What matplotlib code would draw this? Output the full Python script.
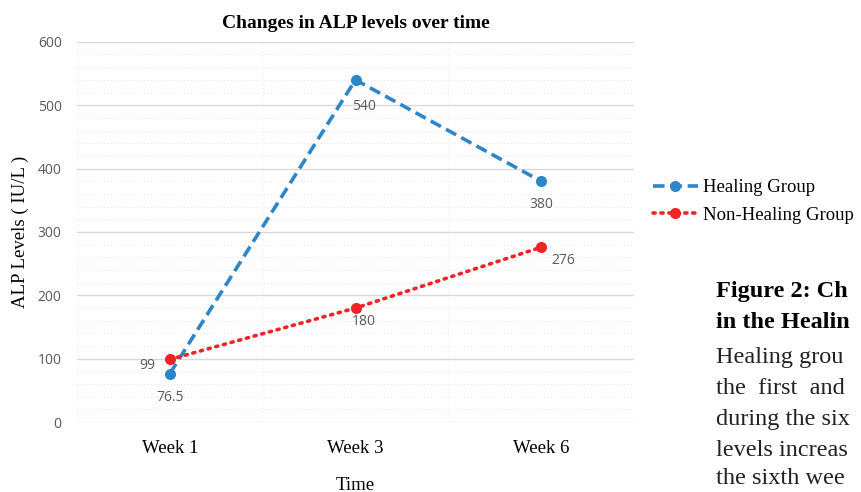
import numpy as np
import matplotlib.pyplot as plt
from matplotlib.ticker import MultipleLocator

# ===== Data =====
weeks = ["Week 1", "Week 3", "Week 6"]
healing = [76.5, 540, 380]
non_healing = [99, 180, 276]

blue = "#2E86C9"
red = "#F02424"
serif = "Liberation Serif"
sans = "Open Sans"

fig = plt.figure(figsize=(8.61, 4.92), dpi=100)
ax = fig.add_axes([0.0894, 0.142, 0.647, 0.773])

x = np.arange(len(weeks))
ax.plot(x, healing, color=blue, ls=(0, (3.2, 1.6)), lw=2.6, marker="o", ms=7,
        label="Healing Group", zorder=3)
ax.plot(x, non_healing, color=red, ls=(0, (0.6, 1.6)), lw=2.6, marker="o", ms=7,
        dash_capstyle="round", label="Non-Healing Group", zorder=3)

# ===== Data labels =====
lab = dict(fontsize=10, color="#595959", family=sans, textcoords="offset points",
           ha="center", va="center")
ax.annotate(f"{healing[0]:g}", (x[0], healing[0]), xytext=(0, -17.5), **lab)
ax.annotate(f"{healing[1]:g}", (x[1], healing[1]), xytext=(6, -19.5), **lab)
ax.annotate(f"{healing[2]:g}", (x[2], healing[2]), xytext=(0, -17), **lab)
ax.annotate(f"{non_healing[0]:g}", (x[0], non_healing[0]), xytext=(-16, -4.5), **lab)
ax.annotate(f"{non_healing[1]:g}", (x[1], non_healing[1]), xytext=(6, -10), **lab)
ax.annotate(f"{non_healing[2]:g}", (x[2], non_healing[2]), xytext=(16, -9.5), **lab)

# ===== Axes =====
ax.set_xlim(-0.5, 2.5)
ax.set_ylim(0, 600)
ax.yaxis.set_major_locator(MultipleLocator(100))
ax.yaxis.set_minor_locator(MultipleLocator(20))
ax.xaxis.set_minor_locator(MultipleLocator(0.5))
ax.set_xticks(x)
ax.set_xticklabels(weeks, family=serif, fontsize=13.5)
for t in ax.get_yticklabels():
    t.set_family(sans)
    t.set_fontsize(10)
    t.set_color("#595959")
ax.tick_params(length=0, which="both")
ax.tick_params(axis="x", pad=13)
ax.tick_params(axis="y", pad=11)
ax.grid(True, axis="y", which="major", color="#D9D9D9", lw=1)
ax.grid(True, axis="y", which="minor", color="#E8E8E8", lw=0.8, ls=(0, (1, 2)))
ax.grid(True, axis="x", which="minor", color="#F0F0F0", lw=0.8, ls=(0, (1, 2)))
for s in ax.spines.values():
    s.set_visible(False)

ax.set_title("Changes in ALP levels over time", family=serif, fontweight="bold", fontsize=14, pad=10)
ax.set_xlabel("Time", family=serif, fontsize=13.5, labelpad=14)
ax.set_ylabel("ALP Levels ( IU/L )", family=serif, fontsize=13.5, labelpad=6)

fig.legend(loc="upper left", bbox_to_anchor=(0.747, 0.655), frameon=False,
           prop={"family": serif, "size": 13.5}, handlelength=2.4, labelspacing=0.55,
           handletextpad=0.3, borderpad=0)

# ===== Caption text (cropped in the source) =====
cap_x = 716 / 861
fig.text(cap_x, 1 - 292 / 492, "Figure 2: Ch", family=serif, fontweight="bold", fontsize=17.5, va="center")
fig.text(cap_x, 1 - 323 / 492, "in the Healin", family=serif, fontweight="bold", fontsize=17.5, va="center")
body = ["Healing grou", "the  first  and", "during the six", "levels increas", "the sixth wee"]
body_y = [358, 388, 420, 450, 478]
for line, yy in zip(body, body_y):
    fig.text(cap_x, 1 - yy / 492, line, family=serif, fontsize=17.5, va="center", color="#222222")

fig.savefig("out.png", dpi=100)
